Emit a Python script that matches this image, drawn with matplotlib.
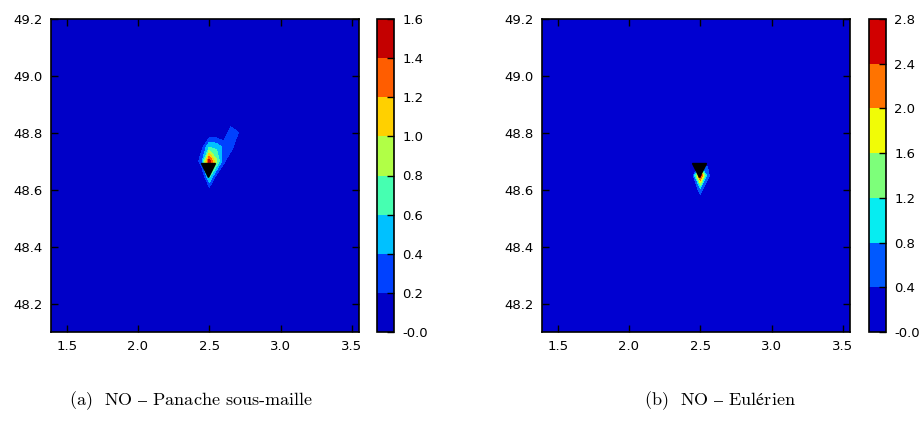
import numpy as np
import matplotlib
matplotlib.use("Agg")
import matplotlib.pyplot as plt

plt.rcParams['mathtext.fontset'] = 'cm'
plt.rcParams['font.family'] = ['DejaVu Sans']

# grid of the domain (lon/lat nodes)
grid_lon = np.round(np.arange(1.35, 3.601, 0.05), 3)
grid_lat = np.round(np.arange(48.05, 49.251, 0.05), 3)

# panel (a): non-zero nodes of the sub-grid plume field
plume_lon = [2.50, 2.50, 2.50, 2.55, 2.55, 2.50, 2.60, 2.60, 2.65, 2.65, 2.70, 2.45, 2.55, 2.45]
plume_lat = [48.70, 48.65, 48.60, 48.70, 48.75, 48.75, 48.75, 48.70, 48.75, 48.80, 48.80, 48.70, 48.65, 48.75]
plume_val = [1.55, 0.70, 0.10, 0.85, 0.55, 0.60, 0.35, 0.25, 0.30, 0.35, 0.22, 0.40, 0.15, 0.15]

# panel (b): non-zero nodes of the Eulerian field
euler_lon = [2.50, 2.50, 2.55, 2.55, 2.45]
euler_lat = [48.65, 48.60, 48.70, 48.65, 48.65]
euler_val = [2.70, 0.60, 0.30, 0.55, 0.32]

levels_a = [0.0, 0.2, 0.4, 0.6, 0.8, 1.0, 1.2, 1.4, 1.6]
ticklabels_a = ["-0.0", "0.2", "0.4", "0.6", "0.8", "1.0", "1.2", "1.4", "1.6"]
levels_b = [0.0, 0.4, 0.8, 1.2, 1.6, 2.0, 2.4, 2.8]
ticklabels_b = ["-0.0", "0.4", "0.8", "1.2", "1.6", "2.0", "2.4", "2.8"]

source_lon = [2.49]
source_lat = [48.67]

xticks = [1.5, 2.0, 2.5, 3.0, 3.5]
yticks = [48.2, 48.4, 48.6, 48.8, 49.0, 49.2]

captions = ["(a)  NO – Panache sous-maille", "(b)  NO – Eulérien"]


def build_field(lons, lats, vals):
    z = np.zeros((len(grid_lat), len(grid_lon)))
    for lo, la, v in zip(lons, lats, vals):
        i = int(np.argmin(np.abs(grid_lat - la)))
        j = int(np.argmin(np.abs(grid_lon - lo)))
        z[i, j] = v
    return z


fig = plt.figure(figsize=(9.22, 4.30), dpi=100)

W, H = 922.0, 430.0
panels = [
    (51, 377, build_field(plume_lon, plume_lat, plume_val), levels_a, ticklabels_a, 191),
    (542, 869, build_field(euler_lon, euler_lat, euler_val), levels_b, ticklabels_b, 720),
]
top_px, bot_px = 19, 332
for (ax_left, cb_left, z, levels, tlabels, cap_x), cap in zip(panels, captions):
    ax = fig.add_axes([ax_left / W, 1 - bot_px / H, 308 / W, (bot_px - top_px) / H])
    cax = fig.add_axes([cb_left / W, 1 - bot_px / H, 17 / W, (bot_px - top_px) / H])
    X, Y = np.meshgrid(grid_lon, grid_lat)
    cs = ax.contourf(X, Y, z, levels=levels, cmap='jet')
    ax.plot(source_lon, source_lat, linestyle='none', marker='v', color='black',
            markersize=10)
    ax.set_xlim(1.39, 3.55)
    ax.set_ylim(48.1, 49.2)
    ax.set_xticks(xticks)
    ax.set_yticks(yticks)
    ax.set_xticklabels([f"{v:.1f}" for v in xticks])
    ax.set_yticklabels([f"{v:.1f}" for v in yticks])
    ax.tick_params(direction='in', length=5, width=1, top=True, right=True,
                   labelsize=9.5, pad=6)
    for s in ax.spines.values():
        s.set_linewidth(1.2)
    cb = fig.colorbar(cs, cax=cax)
    cb.set_ticks(levels)
    cb.set_ticklabels(tlabels)
    cax.tick_params(direction='in', length=5, width=1, labelsize=9.5, pad=6)
    cb.outline.set_linewidth(1.2)
    fig.text(cap_x / W, 1 - 401 / H, r'$\text{' + cap + '}$', ha='center', va='center',
             fontsize=13)

fig.savefig("out.png", dpi=100)
